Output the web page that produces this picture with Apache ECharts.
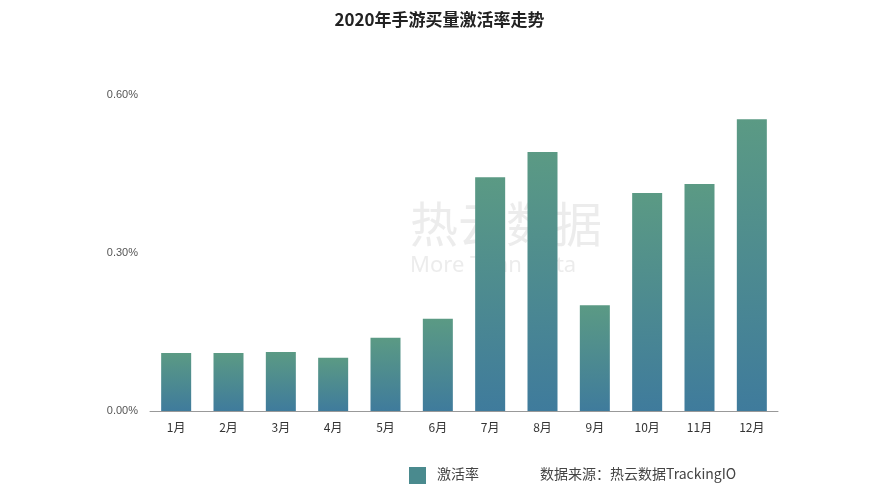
<!DOCTYPE html>
<html><head><meta charset="utf-8">
<script src="https://cdn.jsdelivr.net/npm/echarts@6/dist/echarts.min.js"></script>
<style>html,body{margin:0;padding:0;background:#fff}#c{width:879px;height:486px}</style>
</head><body><div id="c"></div>
<script>
const categories = ['1月','2月','3月','4月','5月','6月','7月','8月','9月','10月','11月','12月'];
const rates = [0.110,0.110,0.112,0.101,0.139,0.175,0.444,0.492,0.201,0.414,0.431,0.554];
const yTicks = [0, 0.3, 0.6];
const chart = echarts.init(document.getElementById('c'));
chart.setOption({
  backgroundColor:'#fff',
  title:{text:'2020年手游买量激活率走势',left:'center',top:6,textStyle:{fontFamily:'Noto Sans CJK SC',fontSize:17,fontWeight:'bold',color:'#222'}},
  graphic:[
    {type:'text',left:410,top:200,style:{text:'热云数据',fontSize:48,fill:'rgba(200,200,200,0.35)',fontFamily:'Noto Sans CJK SC'}},
    {type:'text',left:410,top:255,style:{text:'More Than Data',fontSize:22,fill:'rgba(200,200,200,0.35)',fontFamily:'Noto Sans'}},
    {type:'rect',left:409,top:467,shape:{width:17,height:17},style:{fill:'#4a8a8e'}},
    {type:'text',left:437,top:467,style:{text:'激活率',fontSize:14,fill:'#444',fontFamily:'Noto Sans CJK SC'}},
    {type:'text',left:540,top:467,style:{text:'数据来源：热云数据TrackingIO',fontSize:14,fill:'#444',fontFamily:'Noto Sans CJK SC'}}
  ],
  grid:{left:150,right:101,top:95,bottom:75},
  xAxis:{type:'category',data:categories,axisTick:{show:false},axisLine:{lineStyle:{color:'#999'}},
    axisLabel:{color:'#333',fontSize:12,margin:10,fontFamily:'Noto Sans CJK SC'}},
  yAxis:{type:'value',min:0,max:0.6,interval:0.3,splitLine:{show:false},axisLine:{show:false},axisTick:{show:false},
    axisLabel:{color:'#555',fontSize:11,margin:12,formatter:v=>v.toFixed(2)+'%'}},
  series:[{type:'bar',data:rates,barWidth:30,
    itemStyle:{color:new echarts.graphic.LinearGradient(0,0,0,1,[{offset:0,color:'#5b9a84'},{offset:1,color:'#3f7b9c'}])}}]
});
</script></body></html>
